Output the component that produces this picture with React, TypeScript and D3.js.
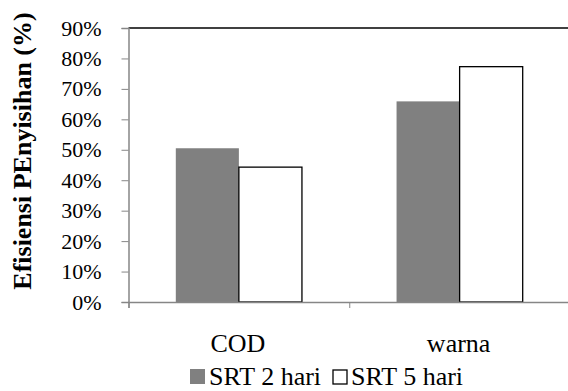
import React, { useRef, useEffect } from "react";
import * as d3 from "d3";

const categories = ["COD", "warna"];
const seriesNames = ["SRT 2 hari", "SRT 5 hari"];
const srt2 = [0.505, 0.659];
const srt5 = [0.443, 0.773];
const yTicks = [0, 0.1, 0.2, 0.3, 0.4, 0.5, 0.6, 0.7, 0.8, 0.9];

const WIDTH = 568;
const HEIGHT = 391;

export default function App() {
  const svgRef = useRef<SVGSVGElement>(null);

  useEffect(() => {
    if (!svgRef.current) return;
    const svg = d3.select(svgRef.current);
    svg.selectAll("*").remove();

    const margin = { top: 28, right: -2, bottom: 89, left: 128.5 };
    const w = WIDTH - margin.left - margin.right;
    const h = HEIGHT - margin.top - margin.bottom;
    const font = "'Liberation Serif', 'Times New Roman', serif";

    const g = svg
      .append("g")
      .attr("transform", `translate(${margin.left},${margin.top})`);

    // Excel-like layout: each category band holds 2 bars with a 150% gap
    const band = w / categories.length;
    const barW = band / 3.5;
    const x1 = d3.scaleBand().domain(seriesNames).range([0, barW * 2]);
    const y = d3.scaleLinear().domain([0, 0.9]).range([h, 0]);

    const groupX = (c: string) => categories.indexOf(c) * band + (band - barW * 2) / 2;

    // plot area border (top)
    g.append("line")
      .attr("x1", 0).attr("x2", w)
      .attr("y1", 0).attr("y2", 0)
      .attr("stroke", "#000").attr("stroke-width", 1.5);

    const rows = categories.map((c, i) => ({ c, vals: [srt2[i], srt5[i]] }));

    const grp = g.selectAll(".grp").data(rows).enter().append("g")
      .attr("transform", (d) => `translate(${groupX(d.c)},0)`);

    grp.selectAll("rect")
      .data((d) => d.vals.map((v, j) => ({ s: seriesNames[j], v, j })))
      .enter().append("rect")
      .attr("x", (d) => x1(d.s) || 0)
      .attr("y", (d) => y(d.v))
      .attr("width", x1.bandwidth())
      .attr("height", (d) => h - y(d.v))
      .attr("fill", (d) => (d.j === 0 ? "#808080" : "#fff"))
      .attr("stroke", (d) => (d.j === 0 ? "none" : "#000"))
      .attr("stroke-width", 1.3);

    // y axis
    const yAxis = g.append("g")
      .attr("font-family", font)
      .call(d3.axisLeft(y).tickValues(yTicks).tickSize(7).tickPadding(20).tickFormat(d3.format(".0%")));
    yAxis.attr("font-family", font);
    yAxis.select(".domain").attr("stroke", "#868686").attr("stroke-width", 1.5);
    yAxis.selectAll(".tick line").attr("stroke", "#868686");
    yAxis.selectAll("text")
      .attr("font-family", font).attr("font-size", 22).attr("fill", "#000");

    // x axis
    const xb = d3.scaleLinear().domain([0, categories.length]).range([0, w]);
    const xAxis = g.append("g").attr("transform", `translate(0,${h})`)
      .call(d3.axisBottom(xb).tickValues(d3.range(0, categories.length + 1)).tickSize(6).tickFormat(() => ""));
    xAxis.select(".domain").attr("stroke", "#868686").attr("stroke-width", 1.5);
    xAxis.selectAll(".tick line").attr("stroke", "#868686");

    g.selectAll(".cat").data(categories).enter().append("text")
      .attr("x", (d) => categories.indexOf(d) * band + band / 2 - 1)
      .attr("y", h + 50)
      .attr("text-anchor", "middle")
      .attr("font-family", font).attr("font-size", 26)
      .text((d) => d);

    // y title
    svg.append("text")
      .attr("transform", `translate(31,${151}) rotate(-90)`)
      .attr("text-anchor", "middle")
      .attr("font-family", font).attr("font-weight", "bold").attr("font-size", 26)
      .text("Efisiensi PEnyisihan (%)");

    // legend
    const legend = svg.append("g").attr("transform", "translate(190,385)");
    const items = legend.selectAll(".li").data(seriesNames).enter().append("g")
      .attr("transform", (_d, i) => `translate(${i * 142},0)`);
    items.append("rect")
      .attr("x", (_d, i) => (i === 0 ? 0 : 1))
      .attr("y", (_d, i) => (i === 0 ? -16 : -15))
      .attr("width", (_d, i) => (i === 0 ? 15 : 14))
      .attr("height", (_d, i) => (i === 0 ? 15 : 14))
      .attr("fill", (_d, i) => (i === 0 ? "#808080" : "#fff"))
      .attr("stroke", (_d, i) => (i === 0 ? "none" : "#000"))
      .attr("stroke-width", 1.3);
    items.append("text")
      .attr("x", 19)
      .attr("y", 0)
      .attr("font-family", font).attr("font-size", 26)
      .text((d) => d);
  }, []);

  return (
    <svg
      ref={svgRef}
      width={WIDTH}
      height={HEIGHT}
      style={{ position: "absolute", left: 0, top: 0, background: "#fff" }}
    ></svg>
  );
}
